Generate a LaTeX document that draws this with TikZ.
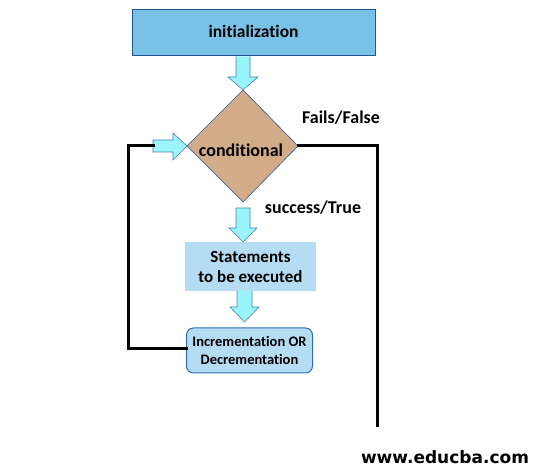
\documentclass[tikz,border=0pt]{standalone}
\usepackage{fontspec}
\setmainfont[Ligatures=NoCommon]{Carlito}
\newfontfamily\urlfont{DejaVu Sans}
\definecolor{initfill}{RGB}{120,194,232}
\definecolor{initdraw}{RGB}{35,85,150}
\definecolor{arrfill}{RGB}{153,244,251}
\definecolor{arrdraw}{RGB}{70,130,180}
\definecolor{diafill}{RGB}{210,172,136}
\definecolor{diadraw}{RGB}{47,85,151}
\definecolor{boxfill}{RGB}{180,221,243}
\definecolor{incdraw}{RGB}{46,110,170}
\begin{document}
\begin{tikzpicture}[x=1pt,y=-1pt,
  lbl/.style={font=\bfseries\fontsize{18}{20}\selectfont, inner sep=0},
  blockarrow/.style={fill=arrfill, draw=arrdraw, line width=0.6pt, line join=miter},
  loopline/.style={line width=3pt, line cap=rect}]
\useasboundingbox (0,0) rectangle (541,470);
% initialization
\node[draw=initdraw, fill=initfill, line width=1pt, minimum width=243pt, minimum height=46pt, inner sep=0,
  font=\bfseries\fontsize{17.5}{20}\selectfont] (init) at (253.5,33) {\raisebox{3pt}{initialization}};
% diamond
\coordinate (dT) at (243,90);
\coordinate (dL) at (187,146);
\coordinate (dR) at (298,146);
\coordinate (dB) at (243,202);
\fill[diafill] (dT) -- (dR) -- (dB) -- (dL) -- cycle;
\draw[diadraw, line width=0.6pt] (dT) -- (dR) -- (dB) -- (dL) -- cycle;
\node[lbl, font=\bfseries\fontsize{18}{20}\selectfont] (cond) at (241,150) {conditional};
% statements
\node[fill=boxfill, minimum width=131pt, minimum height=49pt, inner sep=0, align=center,
  font=\bfseries\fontsize{17}{20}\selectfont] (stmt) at (250.5,266.5) {Statements\\to be executed};
% increment
\node[draw=incdraw, fill=boxfill, rounded corners=7pt, line width=1pt, minimum width=126pt, minimum height=45pt,
  inner sep=0, align=center, font=\bfseries\fontsize{14.5}{18}\selectfont] (inc) at (249.5,350.5) {Incrementation OR\\Decrementation};
% block arrows
\draw[blockarrow] (init.south -| 236,0) -- (236,77) -- (228,77) -- (dT) -- (258,77) -- (250,77) -- (init.south -| 250,0);
\draw[blockarrow] (236,208) -- (236,228) -- (229,228) -- (243,242) -- (257,228) -- (250,228) -- (250,208) -- cycle;
\draw[blockarrow] (stmt.south -| 237,0) -- (237,307) -- (230,307) -- (244.5,322) -- (259,307) -- (252,307) -- (stmt.south -| 252,0);
\draw[blockarrow] (153,140) -- (173,140) -- (173,133) -- (dL) -- (173,160) -- (173,152) -- (153,152) -- cycle;
% loop lines
\coordinate (lt) at (128,146);
\coordinate (lb) at (128,349);
\coordinate (rt) at (377,146);
\coordinate (rb) at (377,425);
\draw[loopline] (inc.west |- lb) -- (lb) -- (lt) -- (153,146);
\draw[loopline] (dR) -- (rt) -- (rb);
% labels
\node[lbl] (fails) at (341,118) {Fails/False};
\node[lbl] (succ) at (313,208) {success/True};
\node[font=\urlfont\bfseries\fontsize{17}{20}\selectfont, inner sep=0] (url) at (445,457) {www.educba.com};
\end{tikzpicture}
\end{document}
